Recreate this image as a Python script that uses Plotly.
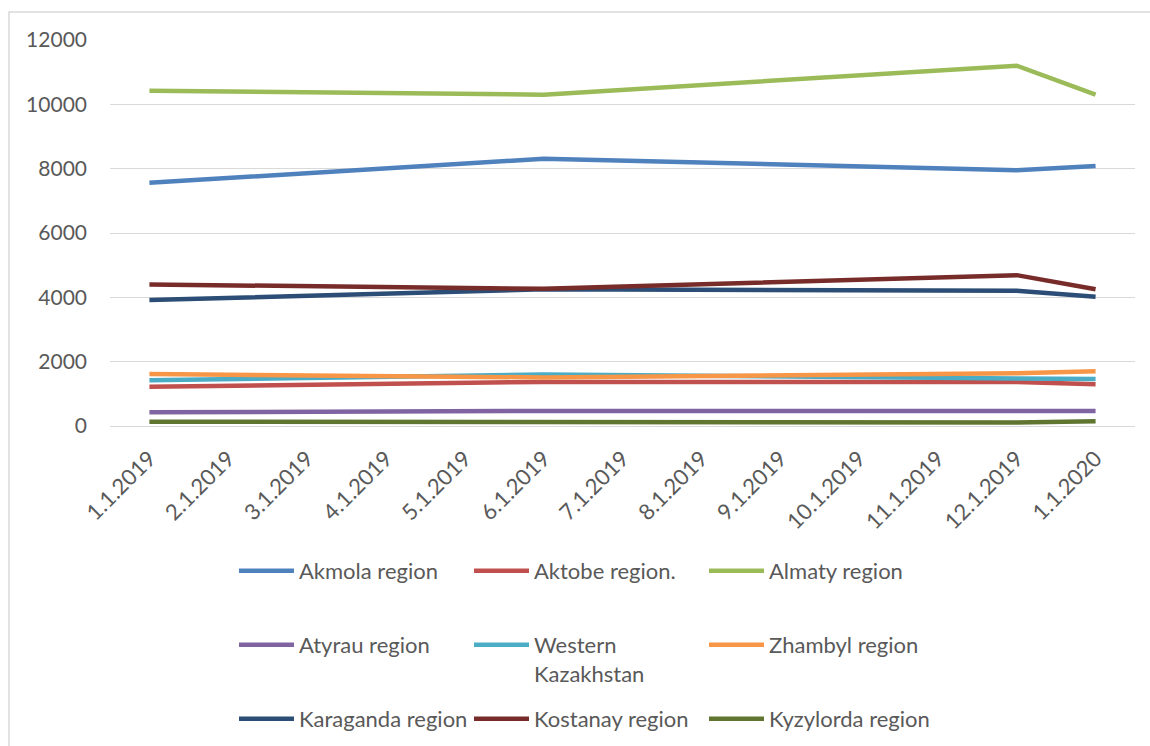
import plotly.graph_objects as go

categories = ["1.1.2019", "2.1.2019", "3.1.2019", "4.1.2019", "5.1.2019", "6.1.2019",
              "7.1.2019", "8.1.2019", "9.1.2019", "10.1.2019", "11.1.2019", "12.1.2019", "1.1.2020"]

N = None
akmola    = [7560, N, N, N, N, 8310, N, N, N, N, N, 7950, 8080]
aktobe    = [1220, N, N, N, N, 1370, N, N, N, N, N, 1370, 1300]
almaty    = [10420, N, N, N, N, 10300, N, N, N, N, N, 11200, 10300]
atyrau    = [425, N, N, N, N, 470, N, N, N, N, N, 466, 466]
western   = [1420, N, N, N, N, 1600, N, N, N, N, N, 1480, 1460]
zhambyl   = [1615, N, N, N, N, 1510, N, N, N, N, N, 1640, 1700]
karaganda = [3915, N, N, N, N, 4250, N, N, N, N, N, 4205, 4015]
kostanay  = [4400, N, N, N, N, 4265, N, N, N, N, N, 4690, 4250]
kyzylorda = [135, N, N, N, N, 112, N, N, N, N, N, 105, 146]

series = [
    ("Akmola region", akmola, "#4F81BD", "legend"),
    ("Aktobe region.", aktobe, "#C0504D", "legend"),
    ("Almaty region", almaty, "#9BBB59", "legend"),
    ("Atyrau region", atyrau, "#8064A2", "legend2"),
    ("Western<br>Kazakhstan", western, "#4BACC6", "legend2"),
    ("Zhambyl region", zhambyl, "#F79646", "legend2"),
    ("Karaganda region", karaganda, "#2C4D75", "legend3"),
    ("Kostanay region", kostanay, "#772C2A", "legend3"),
    ("Kyzylorda region", kyzylorda, "#5F7530", "legend3"),
]

fig = go.Figure()
for name, vals, color, lg in series:
    fig.add_trace(go.Scatter(x=categories, y=vals, name=name, mode="lines",
                             connectgaps=True, legend=lg,
                             line=dict(color=color, width=4.5)))

FONT = "Lato, 'Open Sans', sans-serif"
TXT = "#595959"

L, R, T, B = 110, 15, 40, 320
W, H = 1150, 746
pw = W - L - R
ph = H - T - B

def px2x(px):
    return (px - L) / pw

def px2y(py):
    return (H - B - py) / ph

legend_common = dict(orientation="h", xanchor="left", yanchor="top",
                     font=dict(family=FONT, size=22, color=TXT),
                     entrywidth=165, entrywidthmode="pixels", itemwidth=55,
                     valign="top", bgcolor="rgba(0,0,0,0)", tracegroupgap=0)

fig.update_layout(
    width=W, height=H,
    margin=dict(l=L, r=R, t=T, b=B, autoexpand=False),
    paper_bgcolor="white", plot_bgcolor="white",
    font=dict(family=FONT, color=TXT),
    showlegend=True,
    legend=dict(x=px2x(234), y=px2y(550), **legend_common),
    legend2=dict(x=px2x(234), y=px2y(624), **legend_common),
    legend3=dict(x=px2x(234), y=px2y(698), **legend_common),
    xaxis=dict(type="category", range=[-0.5, 12.5], tickangle=-45, automargin=False,
               showgrid=False, showline=True, linecolor="#D9D9D9", linewidth=1,
               ticks="", ticklabelstandoff=10,
               tickfont=dict(family=FONT, size=22, color=TXT)),
    yaxis=dict(range=[0, 12000], tickvals=[0, 2000, 4000, 6000, 8000, 10000, 12000],
               ticktext=["0", "2000", "4000", "6000", "8000", "10000", "12000"],
               automargin=False,
               showgrid=True, gridcolor="#D9D9D9", gridwidth=1, zeroline=False,
               showline=False, ticks="", ticklabelstandoff=22,
               tickfont=dict(family=FONT, size=21, color=TXT)),
    shapes=[dict(type="rect", xref="paper", yref="paper",
                 x0=px2x(9), x1=px2x(1160), y0=px2y(760), y1=px2y(12),
                 line=dict(color="#D9D9D9", width=1.5), fillcolor="rgba(0,0,0,0)",
                 layer="below")],
)

fig.write_html("out.html")
